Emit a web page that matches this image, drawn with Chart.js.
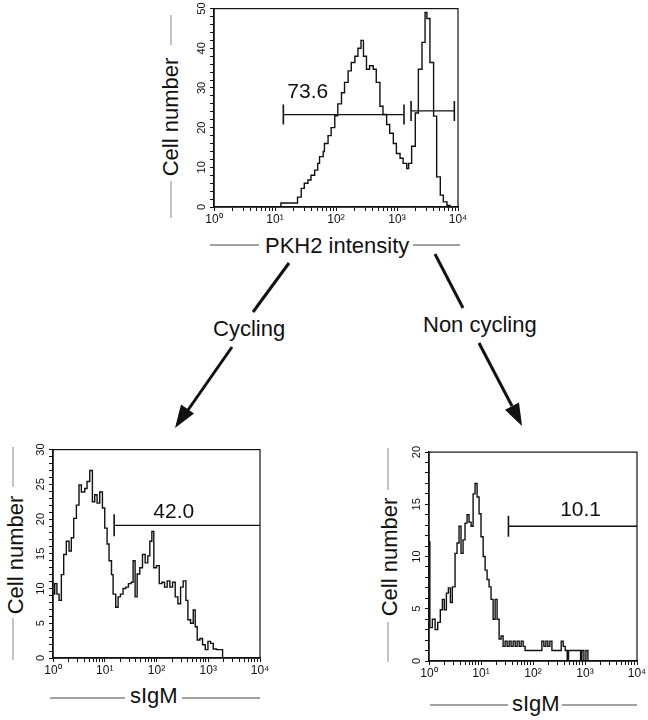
<!DOCTYPE html>
<html lang="en">
<head>
<meta charset="UTF-8">
<title>PKH2 intensity / sIgM</title>
<script src="https://cdn.jsdelivr.net/npm/chart.js"></script>
<style>
  body { margin: 0; background: #fff; }
  #page { position: relative; width: 648px; height: 720px; overflow: hidden; background: #fff; }
  .plot { position: absolute; }
  #notes { position: absolute; left: 0; top: 0; }
  #notes text { font-family: 'Liberation Sans', Arial, Helvetica, sans-serif; font-size: 22px; fill: #111; }
  #notes .guide { stroke: #888; stroke-width: 1; }
  #notes .rule { stroke: #444; stroke-width: 1; }
  #notes .arrow { stroke: #111; stroke-width: 3; fill: none; }
</style>
</head>
<body>
<div id="page">
  <svg id="notes" width="648" height="720">
    <!-- axis titles -->
    <line class="guide" x1="171" y1="15" x2="171" y2="45"/>
    <text transform="translate(178,117) rotate(-90)" text-anchor="middle">Cell number</text>
    <line class="guide" x1="171" y1="181" x2="171" y2="218"/>

    <line class="rule" x1="210" y1="245" x2="259" y2="245"/>
    <text x="265" y="253">PKH2 intensity</text>
    <line class="rule" x1="413" y1="245" x2="460" y2="245"/>

    <line class="guide" x1="13" y1="447" x2="13" y2="487"/>
    <text transform="translate(23,555) rotate(-90)" text-anchor="middle">Cell number</text>
    <line class="guide" x1="13" y1="618" x2="13" y2="660"/>

    <line class="rule" x1="50" y1="698" x2="125" y2="698"/>
    <text x="130" y="703">sIgM</text>
    <line class="rule" x1="182" y1="698" x2="260" y2="698"/>

    <line class="guide" x1="388" y1="448" x2="388" y2="490"/>
    <text transform="translate(397,557) rotate(-90)" text-anchor="middle">Cell number</text>
    <line class="guide" x1="388" y1="622" x2="388" y2="662"/>

    <line class="rule" x1="430" y1="705" x2="508" y2="705"/>
    <text x="512" y="711">sIgM</text>
    <line class="rule" x1="562" y1="705" x2="637" y2="705"/>

    <!-- arrows -->
    <line class="arrow" x1="289" y1="263" x2="253" y2="312"/>
    <text x="213" y="336">Cycling</text>
    <line class="arrow" x1="232" y1="347" x2="188" y2="410"/>
    <polygon points="175,428 194,413.5 181,404.5" fill="#111"/>

    <line class="arrow" x1="435" y1="254" x2="463" y2="308"/>
    <text x="423" y="332">Non cycling</text>
    <line class="arrow" x1="479" y1="343" x2="512" y2="406"/>
    <polygon points="522,426 519,402.5 505,409.8" fill="#111"/>
  </svg>

  <div class="plot" id="pkhBox"><canvas id="pkhChart"></canvas></div>
  <div class="plot" id="cycBox"><canvas id="cycChart"></canvas></div>
  <div class="plot" id="nonBox"><canvas id="nonChart"></canvas></div>
</div>

<script>
// log axis decades and their labels
const decades = [1, 10, 100, 1000, 10000];
const decadeLabels = ['10⁰', '10¹', '10²', '10³', '10⁴'];

// PKH2 intensity histogram (top)
const pkhX = [1, 11.7, 12.5, 14.1, 20.9, 23.4, 26.9, 30.2, 34.7, 38.9, 44.7, 50.1, 53.7, 61.7, 64.6, 74.1, 83.2, 95.5,
  107, 123, 138, 158, 178, 204, 229, 257, 282, 316, 355, 407, 457, 525, 589, 676, 759, 871, 977,
  1122, 1259, 1445, 1549, 1738, 1995, 2239, 2570, 2884, 3090, 3467, 3981, 4467, 5129, 5754, 6607, 7413, 10000];
const pkhY = [0, 0, 1, 1, 1, 2.5, 4.7, 6, 6.8, 8, 9.3, 11, 12.7, 14, 16, 18, 20, 23,
  26, 28.8, 31.4, 34.3, 36.4, 38, 40, 42, 38, 34.7, 35.6, 34.7, 31.4, 25.4, 23.3, 20.8, 18.6, 16, 13.5,
  12.3, 11, 9.7, 11, 15.3, 23.7, 34.7, 41.5, 49, 47.5, 36.4, 22.9, 7.6, 3, 1.3, 0.4, 0, 0];
const pkhGates = [[13.7, 1303, 23.3], [1700, 8710, 24.2]];   // [from, to, height]
const pkhPct = ['73.6', 34.5, 29];                             // [text, x, y]

// sIgM of cycling cells (bottom left)
const cycX = [1, 1.08, 1.19, 1.31, 1.45, 1.61, 1.81, 2.04, 2.26, 2.51, 2.83, 3.18, 3.53, 4.10, 4.55, 5.13, 5.77, 6.40, 7.11, 8.00,
  9.02, 10.0, 11.1, 12.1, 13.5, 14.5, 16.3, 18.1, 20.1, 22.6, 25.5, 28.7, 32.4, 35.3, 38.6, 42.3, 47.5, 53.6, 60.4, 67.9,
  74.3, 81.3, 88.7, 100, 113, 127, 143, 161, 181, 204, 230, 259, 292, 328, 370, 404, 455, 513, 560, 612,
  690, 776, 875, 986, 1109, 1250, 1449, 1683, 1892, 10000];
const cycY = [9.2, 10.7, 9.2, 8.3, 12, 14.9, 16.8, 15.4, 17.3, 20.1, 22, 24.9, 23.9, 24.4, 25.4, 27, 22.5, 23.5, 22.3, 23.9,
  21.6, 18.7, 16.4, 14, 12, 9.2, 7.3, 8.8, 9.2, 10, 10.2, 10.7, 10.9, 14, 8.8, 12.1, 13, 14.9, 13.7, 14.7,
  16.8, 18.2, 13, 13.3, 10.7, 10.9, 10.2, 11.1, 10.2, 10.9, 8.8, 7.8, 10.2, 11.1, 8.3, 5.5, 5, 6.9, 4.5, 2.6,
  2.8, 1.9, 1.2, 2.4, 2.1, 1.3, 1.2, 1.2, 0, 0];
const cycGates = [[15.2, 10000, 19.1]];
const cycPct = ['42.0', 216, 21];

// sIgM of non cycling cells (bottom right)
const nonX = [1, 1.04, 1.16, 1.31, 1.47, 1.65, 1.81, 1.97, 2.16, 2.36, 2.58, 2.81, 3.17, 3.46, 3.78, 4.13, 4.52, 4.93, 5.40, 5.89,
  6.44, 7.05, 7.69, 8.41, 9.18, 10.0, 11.0, 12.0, 13.1, 14.3, 15.6, 17.1, 18.7, 20.4, 22.3, 24.4, 26.6, 29.1, 31.8, 34.8,
  37.9, 41.5, 45.4, 49.5, 54.2, 59.2, 64.7, 70.6, 137, 148, 162, 177, 193, 211, 231, 319, 349, 381, 417, 455,
  483, 822, 873, 953, 1042, 1138, 1262, 10000];
const nonY = [11.4, 3.2, 4, 3, 3.7, 4.9, 5.9, 4.9, 6.5, 7, 5.6, 7.1, 10.3, 11.3, 12.9, 10.3, 11.6, 13.2, 14, 13.3,
  12.9, 16, 17, 15.7, 14.1, 11.9, 10, 8.7, 7.8, 7.1, 5.9, 4, 5.9, 4, 2.1, 2.4, 1.4, 1.9, 1.4, 1.9,
  1.4, 1.9, 1.4, 1.9, 1.4, 1.9, 1.4, 1.0, 1.0, 1.9, 1.4, 1.9, 1.4, 1.9, 1.0, 1.0, 1.9, 1.4, 1.0, 0,
  1, 0, 1, 0, 1, 0, 0, 0];
const nonGates = [[33.7, 10000, 12.9]];
const nonPct = ['10.1', 822, 14.4];

const FONT = "'Liberation Sans', Arial, Helvetica, sans-serif";
const AXIS_W = 34, AXIS_H = 28, PAD_T = 10, PAD_R = 14;
const INK = '#111';

// minor log ticks 1..9 per decade
const logTicks = [];
decades.forEach((d, i) => {
  if (i < decades.length - 1) { for (let m = 1; m < 10; m++) logTicks.push(d * m); }
  else logTicks.push(d);
});

// box around the plot area + the percentage label
const framePlugin = {
  id: 'frame',
  afterDraw(chart, args, opts) {
    const { ctx, chartArea: a } = chart;
    ctx.save();
    ctx.strokeStyle = INK;
    ctx.lineWidth = 1.2;
    ctx.strokeRect(a.left, a.top, a.right - a.left, a.bottom - a.top);
    if (opts.pct) {
      ctx.fillStyle = INK;
      ctx.font = '21px ' + FONT;
      ctx.textAlign = 'center';
      ctx.textBaseline = 'middle';
      ctx.fillText(opts.pct[0], chart.scales.x.getPixelForValue(opts.pct[1]), chart.scales.y.getPixelForValue(opts.pct[2]));
    }
    ctx.restore();
  }
};

function histogram(id, boxId, area, xs, ys, yMax, yStep, yEvery, gates, pct, tickR) {
  const box = document.getElementById(boxId);
  const w = AXIS_W + area.w + PAD_R, h = PAD_T + area.h + AXIS_H;
  box.style.left = (area.left - AXIS_W) + 'px';
  box.style.top = (area.top - PAD_T) + 'px';
  const cv = document.getElementById(id);
  cv.width = w; cv.height = h;

  const datasets = [{
    data: xs.map((v, i) => ({ x: v, y: ys[i] })),
    borderColor: INK, borderWidth: 1.4, stepped: true, pointRadius: 0, fill: false
  }];
  gates.forEach(g => {
    datasets.push({
      data: [{ x: g[0], y: g[2] }, { x: g[1], y: g[2] }],
      borderColor: INK, borderWidth: 1.3,
      pointStyle: 'line', pointRotation: 90,
      pointRadius: [tickR, g[1] >= 10000 ? 0 : tickR],
      pointBorderColor: INK, pointBorderWidth: 1.6
    });
  });

  const grid = { drawOnChartArea: false, drawTicks: true, tickLength: 4, color: INK, lineWidth: 1 };
  const border = { display: true, color: INK, width: 1.5 };

  return new Chart(cv, {
    type: 'line',
    data: { datasets },
    plugins: [framePlugin],
    options: {
      responsive: false,
      animation: false,
      events: [],
      layout: { padding: { left: 0, top: PAD_T, right: PAD_R, bottom: 0 } },
      plugins: { legend: { display: false }, tooltip: { enabled: false }, frame: { pct } },
      scales: {
        x: {
          type: 'logarithmic', min: 1, max: 10000,
          afterBuildTicks: s => { s.ticks = logTicks.map(v => ({ value: v })); },
          afterFit: s => { s.height = AXIS_H; },
          grid, border,
          ticks: {
            autoSkip: false, minRotation: 0, maxRotation: 0, padding: 1, color: INK,
            font: { family: FONT, size: 12 },
            callback: v => { const i = decades.indexOf(v); return i < 0 ? '' : decadeLabels[i]; }
          }
        },
        y: {
          min: 0, max: yMax,
          afterFit: s => { s.width = AXIS_W; },
          grid, border,
          ticks: {
            stepSize: yStep, maxTicksLimit: 200, autoSkip: false,
            minRotation: 90, maxRotation: 90, crossAlign: 'center', padding: 2, color: INK,
            font: { family: FONT, size: 11 },
            callback: v => (v % yEvery === 0 ? String(v) : '')
          }
        }
      }
    }
  });
}

histogram('pkhChart', 'pkhBox', { left: 214, top: 7, w: 244, h: 200 }, pkhX, pkhY, 50, 2, 10, pkhGates, pkhPct, 10);
histogram('cycChart', 'cycBox', { left: 53, top: 447, w: 207, h: 211 }, cycX, cycY, 30, 1, 5, cycGates, cycPct, 11);
histogram('nonChart', 'nonBox', { left: 429, top: 450, w: 208, h: 211 }, nonX, nonY, 20, 1, 5, nonGates, nonPct, 10.5);
</script>
</body>
</html>
